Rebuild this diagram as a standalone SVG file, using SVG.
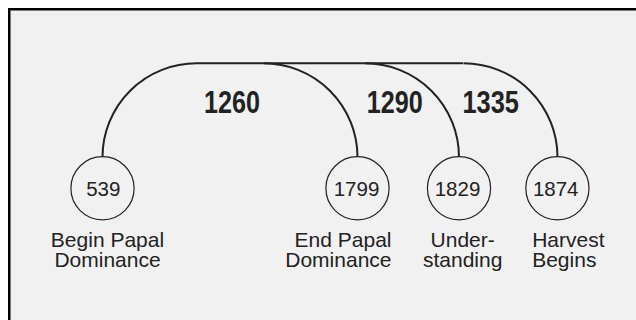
<svg xmlns="http://www.w3.org/2000/svg" width="636" height="320" viewBox="0 0 636 320">
  <style>
    .frame { fill: #f1f1f1; stroke: #000; stroke-width: 2.5; }
    .inner { fill: none; stroke: #777; stroke-width: 1; }
    .conn { fill: none; stroke: #222; stroke-width: 2; }
    .node circle { fill: #f1f1f1; stroke: #222; stroke-width: 1.2; }
    .num { font-family: "Liberation Sans", Arial, sans-serif; font-size: 20.5px; fill: #222; text-anchor: middle; }
    .lbl { font-family: "Liberation Sans", Arial, sans-serif; font-size: 21px; fill: #222; }
    .span { font-family: "Liberation Sans", Arial, sans-serif; font-size: 31px; font-weight: bold; fill: #222; }
  </style>
  <rect x="0" y="0" width="636" height="320" fill="#ffffff"/>
  <rect class="frame" x="9.25" y="9.25" width="640" height="330"/>
  <path class="inner" d="M10.5,330 V10.5 H640"/>

  <g id="connectors">
    <path class="conn" d="M102.5,157 A94,94 0 0 1 196.5,63.3 H463"/>
    <path class="conn" d="M263.5,63.3 A94,94 0 0 1 357.5,157"/>
    <path class="conn" d="M365,63.3 A94,94 0 0 1 459,157"/>
    <path class="conn" d="M463.5,63.3 A94,94 0 0 1 557.5,157"/>
    <text class="span" x="204" y="112.7" textLength="56" lengthAdjust="spacingAndGlyphs">1260</text>
    <text class="span" x="366.7" y="112.7" textLength="56" lengthAdjust="spacingAndGlyphs">1290</text>
    <text class="span" x="462.5" y="112.7" textLength="56.5" lengthAdjust="spacingAndGlyphs">1335</text>
  </g>

  <g id="n539" class="node">
    <circle cx="102.5" cy="188.3" r="31.6"/>
    <text class="num" x="103.3" y="196">539</text>
    <text class="lbl" x="107.5" y="246.5" text-anchor="middle">Begin Papal</text>
    <text class="lbl" x="107.5" y="267.3" text-anchor="middle">Dominance</text>
  </g>
  <g id="n1799" class="node">
    <circle cx="357.5" cy="188.3" r="31.6"/>
    <text class="num" x="356.5" y="196">1799</text>
    <text class="lbl" x="391.5" y="246.5" text-anchor="end">End Papal</text>
    <text class="lbl" x="391.5" y="267.3" text-anchor="end">Dominance</text>
  </g>
  <g id="n1829" class="node">
    <circle cx="459" cy="188.3" r="31.6"/>
    <text class="num" x="457.5" y="196">1829</text>
    <text class="lbl" x="462.7" y="246.5" text-anchor="middle">Under-</text>
    <text class="lbl" x="462.7" y="267.3" text-anchor="middle">standing</text>
  </g>
  <g id="n1874" class="node">
    <circle cx="557.4" cy="188.3" r="31.6"/>
    <text class="num" x="555.7" y="196">1874</text>
    <text class="lbl" x="532.2" y="246.5">Harvest</text>
    <text class="lbl" x="532.2" y="267.3">Begins</text>
  </g>
</svg>
